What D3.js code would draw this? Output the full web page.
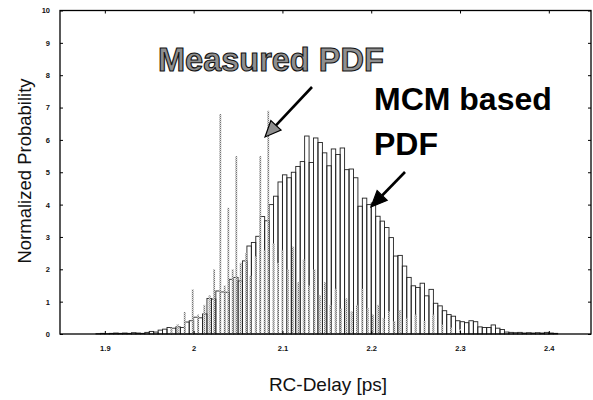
<!DOCTYPE html>
<html><head><meta charset="utf-8">
<script src="https://cdn.jsdelivr.net/npm/d3@7"></script>
<style>body{margin:0;background:#fff}svg{display:block}</style>
</head><body><svg id="c" width="593" height="400"></svg>
<script>
// ---- data ----
const binWidth = 0.005;
const mcmEdges = [1.890,1.895,1.900,1.905,1.910,1.915,1.920,1.925,1.930,1.935,1.940,1.945,1.950,1.955,1.960,1.965,1.970,1.975,1.980,1.985,
1.990,1.995,2.000,2.005,2.010,2.015,2.020,2.025,2.030,2.035,2.040,2.045,2.050,2.055,2.060,2.065,2.070,2.075,2.080,2.085,
2.090,2.095,2.100,2.105,2.110,2.115,2.120,2.125,2.130,2.135,2.140,2.145,2.150,2.155,2.160,2.165,2.170,2.175,2.180,2.185,
2.190,2.195,2.200,2.205,2.210,2.215,2.220,2.225,2.230,2.235,2.240,2.245,2.250,2.255,2.260,2.265,2.270,2.275,2.280,2.285,
2.290,2.295,2.300,2.305,2.310,2.315,2.320,2.325,2.330,2.335,2.340,2.345,2.350,2.355,2.360,2.365,2.370,2.375,2.380,2.385,
2.390,2.395,2.400,2.405];
const mcmValues = [0.01,0.02,0.01,0.02,0.03,0.02,0.03,0.02,0.04,0.03,0.02,0.05,0.08,0.06,0.12,0.15,0.20,0.18,0.22,0.20,
0.37,0.41,0.52,0.50,0.62,1.10,1.08,1.33,1.30,1.29,1.69,1.75,1.64,2.26,2.72,2.83,3.02,3.63,3.50,4.00,
4.26,4.70,4.92,4.83,5.00,5.18,5.33,6.12,5.30,6.06,5.92,5.60,5.20,5.72,5.55,5.75,5.08,5.10,4.83,3.95,
4.20,4.00,4.05,3.64,3.49,3.29,2.98,2.41,2.43,2.10,1.75,1.49,1.44,1.57,1.18,1.38,0.95,0.87,0.72,0.60,
0.55,0.41,0.38,0.35,0.41,0.38,0.22,0.20,0.20,0.28,0.18,0.14,0.06,0.05,0.04,0.05,0.03,0.04,0.03,0.04,
0.03,0.05,0.03,0.02];

const measuredX = [1.975,1.982,1.990,1.999,2.005,2.012,2.018,2.023,2.030,2.035,2.039,2.044,2.048,2.053,2.059,2.064,2.070,2.075,2.080,2.084,
2.090,2.095,2.100,2.106,2.112,2.118,2.124,2.130,2.136,2.142,2.148,2.154,2.160,2.166,2.172,2.178,2.184,2.190,2.196,2.202,
2.208,2.214,2.220,2.226,2.232,2.240,2.250,2.260,2.270,2.280,2.290,2.300];
const measuredValues = [0.2,0.3,0.68,1.38,0.6,0.9,1.2,2.0,6.8,1.5,3.9,2.0,5.5,2.2,2.5,1.8,2.4,5.5,2.6,6.9,
2.8,2.2,2.6,2.0,2.7,1.6,2.3,1.5,2.0,1.2,1.6,0.9,1.4,0.8,1.1,0.7,0.9,1.4,0.8,0.6,
0.9,0.5,0.7,0.4,0.74,0.5,0.6,0.4,0.6,0.3,0.2,0.15];

const xTicks = [1.9,2.0,2.1,2.2,2.3,2.4];
const xTickLabels = ["1.9","2","2.1","2.2","2.3","2.4"];
const yTicks = [0,1,2,3,4,5,6,7,8,9,10];

// ---- drawing ----
const svg = d3.select("#c");
const L=60, R=591, T=10.5, B=334;
const x = d3.scaleLinear().domain([1.8495, 2.4475]).range([L, R]);
const y = d3.scaleLinear().domain([0, 10]).range([B, T]);

const defs = svg.append("defs");
const pat = defs.append("pattern").attr("id","stip").attr("width",2).attr("height",2).attr("patternUnits","userSpaceOnUse");
pat.append("rect").attr("width",2).attr("height",2).attr("fill","#d8d8d8");
pat.append("rect").attr("width",1).attr("height",1).attr("fill","#666");
pat.append("rect").attr("x",1).attr("y",1).attr("width",1).attr("height",1).attr("fill","#999");

// MCM histogram (outlined bars)
svg.append("g").selectAll("rect").data(mcmEdges).join("rect")
  .attr("x", d => x(d))
  .attr("width", d => x(d + binWidth) - x(d))
  .attr("y", (d,i) => y(mcmValues[i]))
  .attr("height", (d,i) => B - y(mcmValues[i]))
  .attr("fill", "none")
  .attr("stroke", "#222")
  .attr("stroke-width", 0.9);

// Measured PDF (narrow gray stippled spikes)
svg.append("g").selectAll("rect").data(measuredX).join("rect")
  .attr("x", d => x(d) - 1)
  .attr("width", 2)
  .attr("y", (d,i) => y(measuredValues[i]))
  .attr("height", (d,i) => B - y(measuredValues[i]))
  .attr("fill", "url(#stip)")
  .attr("opacity", 0.9);

// axes
const axFont = g => g.selectAll("text").attr("font-family","Liberation Sans, Arial, sans-serif").attr("font-size","7.5px").attr("font-weight","bold").attr("fill","#111");
svg.append("g").attr("transform",`translate(${L},0)`)
  .call(d3.axisLeft(y).tickValues(yTicks).tickSize(-3).tickPadding(10).tickFormat(d3.format("d")))
  .call(g => g.select(".domain").remove()).call(axFont);
svg.append("g").attr("transform",`translate(${R},0)`)
  .call(d3.axisRight(y).tickValues(yTicks).tickSize(-3).tickFormat(""))
  .call(g => g.select(".domain").remove());
svg.append("g").attr("transform",`translate(0,${B})`)
  .call(d3.axisBottom(x).tickValues(xTicks).tickSize(-3).tickPadding(12).tickFormat((d,i) => xTickLabels[i]))
  .call(g => g.select(".domain").remove()).call(axFont);
svg.append("g").attr("transform",`translate(0,${T})`)
  .call(d3.axisTop(x).tickValues(xTicks).tickSize(-3).tickFormat(""))
  .call(g => g.select(".domain").remove());
svg.append("rect").attr("x",L).attr("y",T).attr("width",R-L).attr("height",B-T)
  .attr("fill","none").attr("stroke","#000").attr("stroke-width",1.3);

// axis titles
svg.append("text").attr("transform","translate(31,171) rotate(-90)").attr("text-anchor","middle")
  .attr("font-family","Liberation Sans, Arial, sans-serif").attr("font-size","18.5px").attr("fill","#111")
  .text("Normalized Probability");
svg.append("text").attr("x",328).attr("y",391).attr("text-anchor","middle")
  .attr("font-family","Liberation Sans, Arial, sans-serif").attr("font-size","19px").attr("fill","#111")
  .text("RC-Delay [ps]");

// annotations
svg.append("text").attr("x",158).attr("y",71)
  .attr("font-family","Liberation Sans, Arial, sans-serif").attr("font-size","32.5px").attr("font-weight","bold")
  .attr("fill","#8f8f8f").attr("stroke","#111").attr("stroke-width",1.1)
  .text("Measured PDF");
const mcmLbl = svg.append("text").attr("font-family","Liberation Sans, Arial, sans-serif").attr("font-size","32px").attr("font-weight","bold").attr("fill","#000");
mcmLbl.append("tspan").attr("x",374).attr("y",110).text("MCM based");
mcmLbl.append("tspan").attr("x",374).attr("y",155).text("PDF");

function arrow(x1,y1,x2,y2,fill){
  const ang = Math.atan2(y2-y1, x2-x1), len=16, hw=7;
  const bx = x2 - len*Math.cos(ang), by = y2 - len*Math.sin(ang);
  svg.append("line").attr("x1",x1).attr("y1",y1).attr("x2",bx).attr("y2",by).attr("stroke","#000").attr("stroke-width",2.6);
  const px = -Math.sin(ang), py = Math.cos(ang);
  svg.append("path").attr("d",`M${x2},${y2}L${bx+hw*px},${by+hw*py}L${bx-hw*px},${by-hw*py}Z`)
    .attr("fill",fill).attr("stroke","#000").attr("stroke-width",1.2);
}
arrow(312,87,265,137,"#8f8f8f");
arrow(405,172,371,207,"#000");
</script></body></html>
